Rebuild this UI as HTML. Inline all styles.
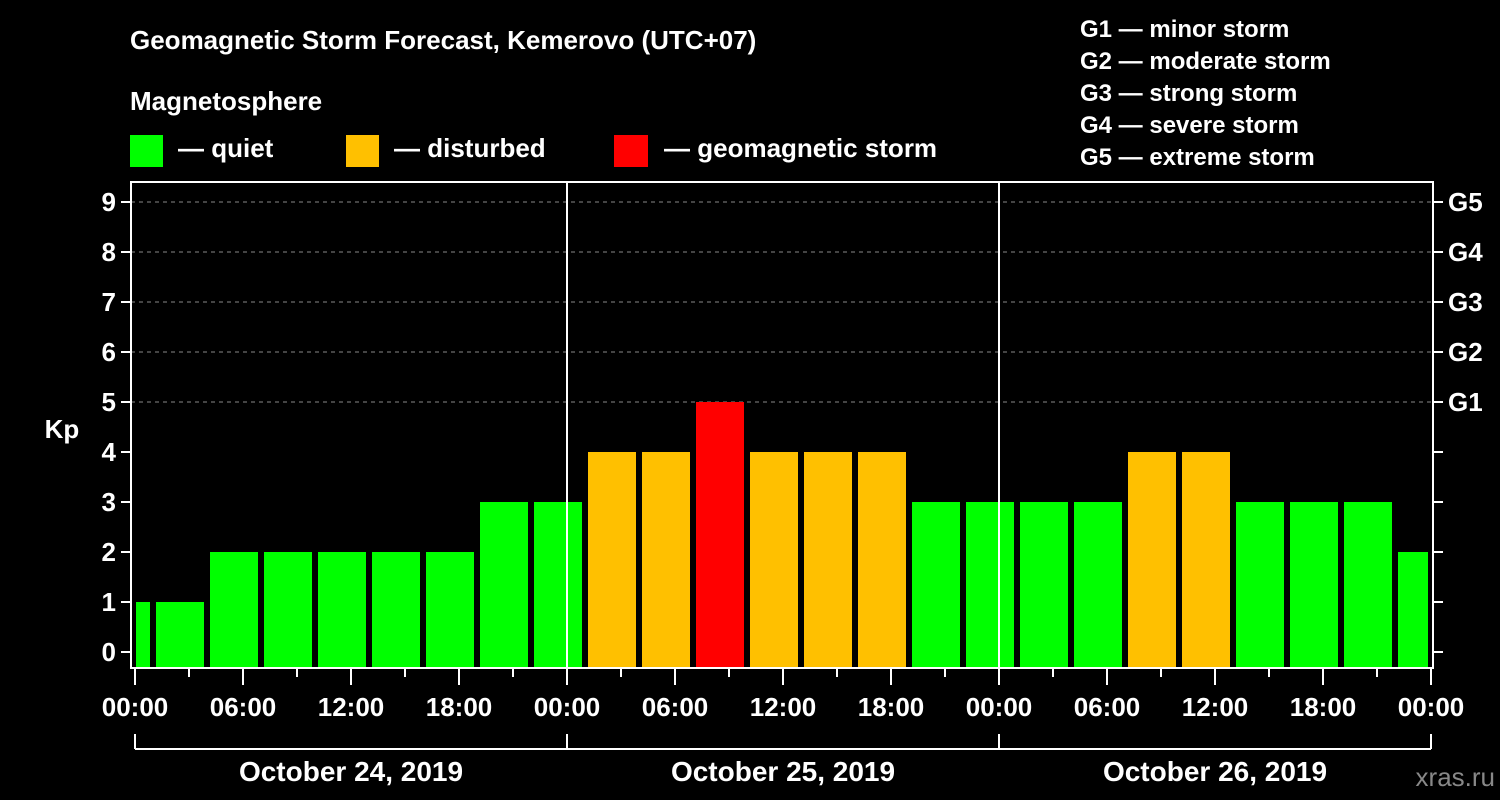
<!DOCTYPE html>
<html><head><meta charset="utf-8"><style>
html,body{margin:0;padding:0;background:#000;}
svg{display:block;font-family:"Liberation Sans",sans-serif;font-weight:bold;}
</style></head><body>
<svg id="chart" width="1500" height="800" viewBox="0 0 1500 800">
<rect x="0" y="0" width="1500" height="800" fill="#000"/>
<text x="130" y="49" fill="#fff" font-size="26">Geomagnetic Storm Forecast, Kemerovo (UTC+07)</text>
<text x="130" y="110" fill="#fff" font-size="26">Magnetosphere</text>
<g><rect x="130" y="135" width="33" height="32" fill="#00ff00"/><text x="178" y="157" fill="#fff" font-size="26">— quiet</text></g>
<g><rect x="346" y="135" width="33" height="32" fill="#ffc000"/><text x="394" y="157" fill="#fff" font-size="26">— disturbed</text></g>
<g><rect x="614" y="135" width="34" height="32" fill="#ff0000"/><text x="664" y="157" fill="#fff" font-size="26">— geomagnetic storm</text></g>
<g fill="#fff" font-size="24">
<text x="1080" y="37">G1 — minor storm</text>
<text x="1080" y="69">G2 — moderate storm</text>
<text x="1080" y="101">G3 — strong storm</text>
<text x="1080" y="133">G4 — severe storm</text>
<text x="1080" y="165">G5 — extreme storm</text>
</g>
<text x="62" y="438" fill="#fff" font-size="26" text-anchor="middle">Kp</text>
<text x="1495" y="786" fill="#888" font-size="26" font-weight="normal" text-anchor="end">xras.ru</text>
<g id="grid"></g><g id="bars"></g><g id="axes"></g>
</svg>
<script>
const kpValues = [1,1,2,2,2,2,2,3,3,4,4,5,4,4,4,3,3,3,3,4,4,3,3,3,2];
const yTicks = [0,1,2,3,4,5,6,7,8,9];
const gLabels = ["G1","G2","G3","G4","G5"];
const gLevels = [5,6,7,8,9];
const xTickLabels = ["00:00","06:00","12:00","18:00","00:00","06:00","12:00","18:00","00:00","06:00","12:00","18:00","00:00"];
const dayLabels = ["October 24, 2019","October 25, 2019","October 26, 2019"];
const NS="http://www.w3.org/2000/svg";
const X0=135, PXH=18, PB=668, PT=182, PL=131, PR=1433;
function xs(h){return X0+h*PXH;}
function ys(v){return 652-v*50;}
function mk(t,a,p){const e=document.createElementNS(NS,t);for(const k in a)e.setAttribute(k,a[k]);p.appendChild(e);return e;}
function color(v){return v>=5?"#ff0000":v>=4?"#ffc000":"#00ff00";}
const grid=document.getElementById('grid'),bars=document.getElementById('bars'),axes=document.getElementById('axes');
gLevels.forEach((g,i)=>{
 const l=mk('line',{x1:PL,x2:PR,y1:ys(g),y2:ys(g),stroke:'#888','stroke-dasharray':'4 4','stroke-width':1},grid);
 
 
 const t=mk('text',{x:1448,y:ys(g)+9,fill:'#fff','font-size':26},axes);t.textContent=gLabels[i];
 
 
});
kpValues.forEach((v,i)=>{
 let h0=i===0?0:1+3*(i-1), h1=Math.min(1+3*i,72);
 let x0=xs(h0)+(i===0?1:3), x1=xs(h1)-3;
 const r=mk('rect',{x:x0,y:ys(v),width:x1-x0,height:PB-1-ys(v),fill:color(v)},bars);
 
 
});
const frame=mk('rect',{x:PL,y:PT,width:PR-PL,height:PB-PT,fill:'none',stroke:'#fff','stroke-width':2},axes);


[24,48].forEach(h=>{const l=mk('line',{x1:xs(h),x2:xs(h),y1:PT,y2:PB,stroke:'#fff','stroke-width':2},axes);
 
 });
yTicks.forEach(v=>{
 mk('line',{x1:PL-10,x2:PL,y1:ys(v),y2:ys(v),stroke:'#fff','stroke-width':2},axes);
 mk('line',{x1:PR,x2:PR+10,y1:ys(v),y2:ys(v),stroke:'#fff','stroke-width':2},axes);
 const t=mk('text',{x:116,y:ys(v)+9,fill:'#fff','font-size':26,'text-anchor':'end'},axes);t.textContent=v;
 
 
});
for(let h=0;h<=72;h+=3){const major=h%6===0;
 mk('line',{x1:xs(h),x2:xs(h),y1:PB,y2:PB+(major?17:9),stroke:'#fff','stroke-width':2},axes);}
xTickLabels.forEach((s,i)=>{const t=mk('text',{x:xs(i*6),y:716,fill:'#fff','font-size':26,'text-anchor':'middle'},axes);t.textContent=s;
 
 });
mk('line',{x1:xs(0),x2:xs(72),y1:749,y2:749,stroke:'#fff','stroke-width':2},axes);
[0,24,48,72].forEach(h=>mk('line',{x1:xs(h),x2:xs(h),y1:734,y2:749,stroke:'#fff','stroke-width':2},axes));
dayLabels.forEach((s,i)=>{const t=mk('text',{x:xs(i*24+12),y:781,fill:'#fff','font-size':28,'text-anchor':'middle'},axes);t.textContent=s;
 
 });
</script>
</body></html>
